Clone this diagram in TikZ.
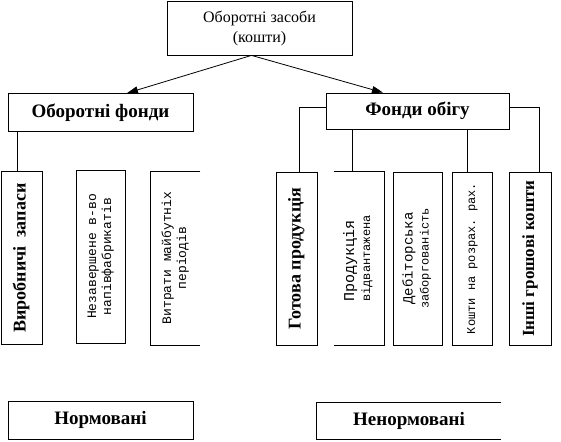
\documentclass[tikz,border=0pt]{standalone}
\usepackage{fontspec}
\setmainfont{Liberation Serif}
\setmonofont{Liberation Mono}
\usepackage{graphicx}
\usetikzlibrary{arrows.meta, positioning}
\newcommand{\fsize}[2]{\fontsize{#1}{#2}\selectfont}
\newcommand{\vlabel}[3]{\rotatebox{90}{#2\begin{tabular}{@{}#1@{}}#3\end{tabular}}}
\tikzset{
  cell/.style={
    draw,
    line width=0.8pt,
    inner sep=0pt,
    align=center
  },
  main box/.style={
    cell,
    minimum width=185pt, minimum height=54pt,
    font=\fsize{16}{20}
  },
  group box/.style={
    cell,
    minimum width=185pt, minimum height=38pt,
    font=\fsize{19}{22}\bfseries
  },
  item box/.style={
    cell,
    minimum width=#1, minimum height=173pt
  },
  item box/.default=42pt,
  link/.style={line width=0.8pt},
  pointer/.style={link, -{Triangle[length=11pt,width=7pt]}}
}
\begin{document}
\begin{tikzpicture}[x=1pt, y=-1pt]
  \useasboundingbox (0,0) rectangle (561,441);
  % top level
  \node[main box] (assets) at (259.5,28) {Оборотні засоби\\(кошти)};
  \node[group box] (funds) at (100.5,112.5) {Оборотні фонди};
  \node[group box, minimum width=183pt, minimum height=36pt] (circ) at (417.5,111) {Фонди обігу};

  \draw[pointer] ([xshift=-8pt]assets.south) -- ([xshift=26.5pt]funds.north);
  \draw[pointer] ([xshift=-8pt]assets.south) -- ([xshift=-34.5pt]circ.north);

  % items of the working funds
  \node[item box=41pt] (stock) at (21.5,258)
    {\vlabel{c}{\bfseries\fsize{18}{21}}{Виробничі\ \ запаси}};
  \node[item box=49pt] (wip) at (100.5,256.5)
    {\vlabel{c}{\ttfamily\fsize{13}{15}}{Незавершене в-во\\напівфабрикатів}};
  \node[item box=49pt, draw=none] (deferred) at (175.5,258)
    {\vlabel{c}{\ttfamily\fsize{13}{15}}{Витрати майбутніх\\періодів}};
  \draw[link] (deferred.north east) -- (deferred.north west)
    -- (deferred.south west) -- (deferred.south east);

  % items of the circulation funds
  \node[item box=41pt] (goods) at (296.5,258.5)
    {\vlabel{c}{\bfseries\fsize{18}{21}}{Готова продукція}};
  \node[item box=50pt, draw=none] (shipped) at (359,258.5)
    {\vlabel{l}{\ttfamily\fsize{14}{16}}{\fsize{15}{16}Продукція\\\fsize{12}{15}відвантажена}};
  \draw[link] (shipped.north west) -- (shipped.north east)
    -- (shipped.south east) -- (shipped.south west);
  \node[item box=49pt] (debts) at (417.5,258.5)
    {\vlabel{c}{\ttfamily\fsize{14}{16}}{Дебіторська\\\fsize{12}{15}заборгованість}};
  \node[item box=40pt] (account) at (472,258.5)
    {\vlabel{c}{\ttfamily\fsize{12}{15}}{Кошти на розрах. рах.}};
  \node[item box] (cash) at (530,258.5)
    {\vlabel{c}{\bfseries\fsize{17}{20}}{Інші грошові кошти}};

  % connectors
  \draw[link] ([xshift=-4.5pt]stock.north) -- ([xshift=-4.5pt]stock.north |- funds.south);
  \draw[link] ([yshift=4pt]circ.west) -| ([xshift=2.5pt]goods.north);
  \draw[link] ([xshift=-7pt]shipped.north) -- ([xshift=-7pt]shipped.north |- circ.south);
  \draw[link] ([xshift=-5pt]account.north) -- ([xshift=-5pt]account.north |- circ.south);
  \draw[link] ([yshift=4pt]circ.east) -| ([xshift=9.5pt]cash.north);

  % bottom labels
  \node[group box] (normed) at (100.5,420) {Нормовані};
  \node[group box, minimum width=184pt, minimum height=36pt, draw=none] (unnormed) at (409,421) {Ненормовані};
  \draw[link] (unnormed.north east) -- (unnormed.north west)
    -- (unnormed.south west) -- (unnormed.south east);
\end{tikzpicture}
\end{document}
